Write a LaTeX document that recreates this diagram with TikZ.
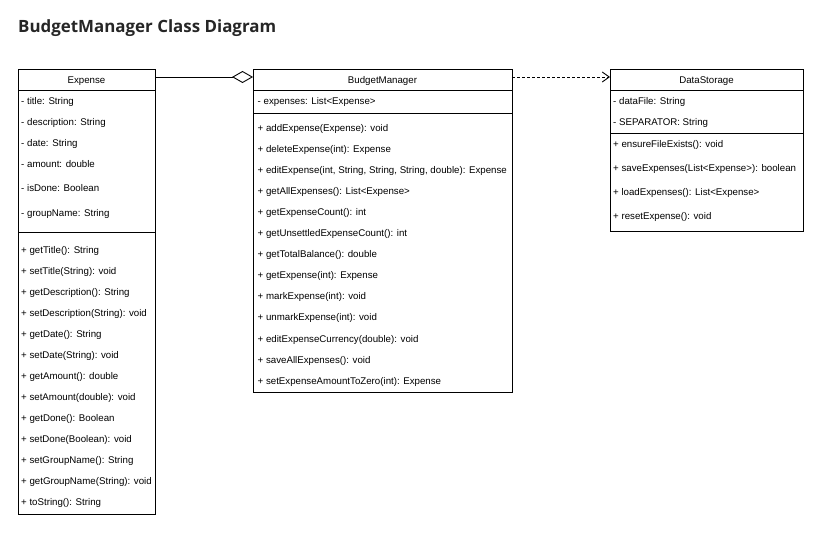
\documentclass[tikz,border=0pt]{standalone}
\usepackage{fontspec}
\setmainfont{Liberation Sans}
\newfontfamily\titlefont{Open Sans}
\usetikzlibrary{arrows.meta}
\begin{document}
\begin{tikzpicture}[x=1pt,y=-1pt,
  cls/.style={draw, line width=0.9pt, rectangle, inner sep=0pt, outer sep=0pt, anchor=north west},
  sep/.style={line width=0.9pt},
  rowtxt/.style={anchor=base west, inner sep=0pt, font=\fontsize{9.7}{11}\selectfont},
  hdrtxt/.style={anchor=base, inner sep=0pt, font=\fontsize{9.7}{11}\selectfont},
  agg/.style={line width=0.9pt, -{Diamond[open, length=21pt, width=12pt, line width=0.9pt]}},
  dep/.style={line width=0.9pt, dash pattern=on 3pt off 2pt, -{Straight Barb[length=7pt, width=10pt, line width=0.9pt]}}
]
\useasboundingbox (0,0) rectangle (819,543);
\fill[white] (0,0) rectangle (819,543);
% title
\node[anchor=base west, inner sep=0pt, font=\titlefont\bfseries\fontsize{16.9}{19}\selectfont, text=black!85] (title) at (18,33) {BudgetManager Class Diagram};

% Expense
\node[cls, minimum width=137pt, minimum height=445pt] (exp) at (18,69) {};
\draw[sep] (18,90) -- (155,90);
\draw[sep] (18,232) -- (155,232);
\node[hdrtxt] (exph) at (86.5,83) {Expense};
\foreach \y/\t [count=\i] in {
  101/{- title: String},
  122/{- description: String},
  143/{- date: String},
  164.5/{- amount: double},
  188/{- isDone: Boolean},
  213/{- groupName: String},
  250.5/{+ getTitle(): String},
  271.5/{+ setTitle(String): void},
  292.5/{+ getDescription(): String},
  313.5/{+ setDescription(String): void},
  334.5/{+ getDate(): String},
  355.5/{+ setDate(String): void},
  376.5/{+ getAmount(): double},
  397.5/{+ setAmount(double): void},
  418.5/{+ getDone(): Boolean},
  439.5/{+ setDone(Boolean): void},
  460.5/{+ setGroupName(): String},
  481.5/{+ getGroupName(String): void},
  502.5/{+ toString(): String}}
  \node[rowtxt] (e\i) at (21,\y+3.4) {\t};

% BudgetManager
\node[cls, minimum width=259pt, minimum height=323pt] (bm) at (253,69) {};
\draw[sep] (253,90) -- (512,90);
\draw[sep] (253,113) -- (512,113);
\node[hdrtxt] (bmh) at (382.5,83) {BudgetManager};
\foreach \y/\t [count=\i] in {
  101.5/{- expenses: List<Expense>},
  128/{+ addExpense(Expense): void},
  149/{+ deleteExpense(int): Expense},
  170/{+ editExpense(int, String, String, String, double): Expense},
  191/{+ getAllExpenses(): List<Expense>},
  212/{+ getExpenseCount(): int},
  233/{+ getUnsettledExpenseCount(): int},
  254/{+ getTotalBalance(): double},
  275/{+ getExpense(int): Expense},
  296.5/{+ markExpense(int): void},
  317.5/{+ unmarkExpense(int): void},
  339/{+ editExpenseCurrency(double): void},
  360/{+ saveAllExpenses(): void},
  381/{+ setExpenseAmountToZero(int): Expense}}
  \node[rowtxt] (b\i) at (257.5,\y+3.4) {\t};

% DataStorage
\node[cls, minimum width=193pt, minimum height=162pt] (ds) at (610,69) {};
\draw[sep] (610,90) -- (803,90);
\draw[sep] (610,133) -- (803,133);
\node[hdrtxt] (dsh) at (706.5,83) {DataStorage};
\foreach \y/\t [count=\i] in {
  101.5/{- dataFile: String},
  122/{- SEPARATOR: String},
  144/{+ ensureFileExists(): void},
  168/{+ saveExpenses(List<Expense>): boolean},
  192/{+ loadExpenses(): List<Expense>},
  216/{+ resetExpense(): void}}
  \node[rowtxt] (d\i) at (613,\y+3.4) {\t};

% connectors
\draw[agg] ([yshift=-8pt]exp.north east) -- ([yshift=-8pt]bm.north west);
\draw[dep] ([yshift=-8pt]bm.north east) -- ([yshift=-8pt]ds.north west);
\end{tikzpicture}
\end{document}
